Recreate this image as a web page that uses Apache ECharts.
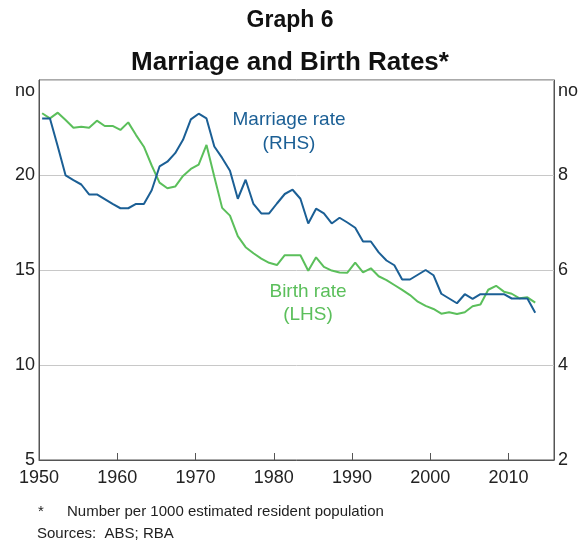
<!DOCTYPE html>
<html>
<head>
<meta charset="utf-8">
<script src="https://cdn.jsdelivr.net/npm/echarts@6/dist/echarts.min.js"></script>
<style>
  html, body { margin: 0; padding: 0; background: #fff; }
  #chart { width: 580px; height: 545px; }
</style>
</head>
<body>
<div id="chart"></div>
<script>
// annual data, 1950 - 2013
const years = [];
for (let y = 1950; y <= 2013; y++) years.push(y);

// births per 1000 population (LHS)
const birthRate = [
  23.25, 22.98, 23.28, 22.89, 22.49, 22.54, 22.49, 22.86, 22.58, 22.58,
  22.37, 22.77, 22.10, 21.49, 20.50, 19.60, 19.30, 19.39, 19.95, 20.32,
  20.55, 21.58, 19.91, 18.27, 17.86, 16.78, 16.20, 15.88, 15.60, 15.38,
  15.26, 15.78, 15.78, 15.78, 14.96, 15.67, 15.16, 14.97, 14.87, 14.86,
  15.39, 14.88, 15.09, 14.67, 14.47, 14.21, 13.95, 13.68, 13.33, 13.11,
  12.95, 12.70, 12.78, 12.68, 12.78, 13.09, 13.18, 13.96, 14.17, 13.86,
  13.75, 13.51, 13.56, 13.28
];

// marriages per 1000 population (RHS)
const marriageRate = [
  9.19, 9.19, 8.60, 7.99, 7.89, 7.80, 7.59, 7.59, 7.49, 7.39,
  7.30, 7.30, 7.39, 7.39, 7.68, 8.18, 8.28, 8.46, 8.74, 9.17,
  9.29, 9.19, 8.60, 8.36, 8.09, 7.50, 7.90, 7.39, 7.19, 7.19,
  7.40, 7.60, 7.69, 7.50, 6.98, 7.29, 7.19, 6.98, 7.10, 7.00,
  6.89, 6.60, 6.60, 6.37, 6.20, 6.10, 5.80, 5.80, 5.90, 6.00,
  5.89, 5.50, 5.40, 5.30, 5.49, 5.39, 5.49, 5.49, 5.49, 5.49,
  5.40, 5.40, 5.40, 5.10
];

const xTicks = [1950, 1960, 1970, 1980, 1990, 2000, 2010];
const lhsTicks = [5, 10, 15, 20, 25];
const rhsTicks = [2, 4, 6, 8, 10];

const FONT = 'Liberation Sans, Arial, sans-serif';
const BLUE = '#1b5f95';
const GREEN = '#5bbf5b';
const AXIS = '#555555';
const TXT = '#222222';

// points are plotted part way through each year
const yearOffset = 0.4;
const pairs = (vals) => vals.map((v, i) => [years[i] + yearOffset, v]);

let myChart = echarts.init(document.getElementById('chart'));
let option = {
  animation: false,
  backgroundColor: '#fff',
  textStyle: { fontFamily: FONT },
  grid: {
    left: 39, right: 26, top: 80, bottom: 85,
    show: true, borderColor: AXIS, borderWidth: 1
  },
  xAxis: {
    type: 'value',
    min: 1950, max: 2015.8, interval: 10,
    axisLine: { show: true, lineStyle: { color: AXIS, width: 1 } },
    axisTick: { show: true, inside: true, length: 7, customValues: xTicks, lineStyle: { color: AXIS } },
    axisLabel: {
      customValues: xTicks, color: TXT, fontSize: 18, fontFamily: FONT, margin: 9,
      formatter: (v) => String(v)
    },
    splitLine: { show: false }
  },
  yAxis: [
    {
      type: 'value', position: 'left',
      min: 5, max: 25, interval: 5,
      axisLine: { show: true, lineStyle: { color: AXIS } },
      axisTick: { show: false },
      axisLabel: {
        color: TXT, fontSize: 18, fontFamily: FONT, margin: 4,
        formatter: (v) => (v === lhsTicks[lhsTicks.length - 1] ? '' : String(v))
      },
      splitLine: { show: true, lineStyle: { color: '#c8c8c8', width: 1 } }
    },
    {
      type: 'value', position: 'right',
      min: 2, max: 10, interval: 2,
      axisLine: { show: true, lineStyle: { color: AXIS } },
      axisTick: { show: false },
      axisLabel: {
        color: TXT, fontSize: 18, fontFamily: FONT, margin: 4,
        formatter: (v) => (v === rhsTicks[rhsTicks.length - 1] ? '' : String(v))
      },
      splitLine: { show: false }
    }
  ],
  series: [
    {
      name: 'Birth rate', type: 'line', yAxisIndex: 0,
      data: pairs(birthRate), showSymbol: false,
      lineStyle: { color: GREEN, width: 2 }, itemStyle: { color: GREEN }, z: 3
    },
    {
      name: 'Marriage rate', type: 'line', yAxisIndex: 1,
      data: pairs(marriageRate), showSymbol: false,
      lineStyle: { color: BLUE, width: 2 }, itemStyle: { color: BLUE }, z: 4
    }
  ],
  graphic: [
    { type: 'text', x: 290, y: 21, style: { text: 'Graph 6', font: 'bold 23px ' + FONT, fill: '#111', align: 'center', verticalAlign: 'middle' } },
    { type: 'text', x: 290, y: 63, style: { text: 'Marriage and Birth Rates*', font: 'bold 26px ' + FONT, fill: '#111', align: 'center', verticalAlign: 'middle' } },
    { type: 'text', x: 35, y: 91, style: { text: 'no', font: '18px ' + FONT, fill: TXT, align: 'right', verticalAlign: 'middle' } },
    { type: 'text', x: 558, y: 91, style: { text: 'no', font: '18px ' + FONT, fill: TXT, align: 'left', verticalAlign: 'middle' } },
    { type: 'text', x: 289, y: 120, style: { text: 'Marriage rate', font: '19px ' + FONT, fill: BLUE, align: 'center', verticalAlign: 'middle' } },
    { type: 'text', x: 289, y: 144, style: { text: '(RHS)', font: '19px ' + FONT, fill: BLUE, align: 'center', verticalAlign: 'middle' } },
    { type: 'text', x: 308, y: 292, style: { text: 'Birth rate', font: '19px ' + FONT, fill: GREEN, align: 'center', verticalAlign: 'middle' } },
    { type: 'text', x: 308, y: 315, style: { text: '(LHS)', font: '19px ' + FONT, fill: GREEN, align: 'center', verticalAlign: 'middle' } },
    { type: 'text', x: 38, y: 512, style: { text: '*', font: '15px ' + FONT, fill: TXT, align: 'left', verticalAlign: 'middle' } },
    { type: 'text', x: 67, y: 512, style: { text: 'Number per 1000 estimated resident population', font: '15px ' + FONT, fill: TXT, align: 'left', verticalAlign: 'middle' } },
    { type: 'text', x: 37, y: 534, style: { text: 'Sources:  ABS; RBA', font: '15px ' + FONT, fill: TXT, align: 'left', verticalAlign: 'middle' } }
  ]
};
myChart.setOption(option);
</script>
</body>
</html>
